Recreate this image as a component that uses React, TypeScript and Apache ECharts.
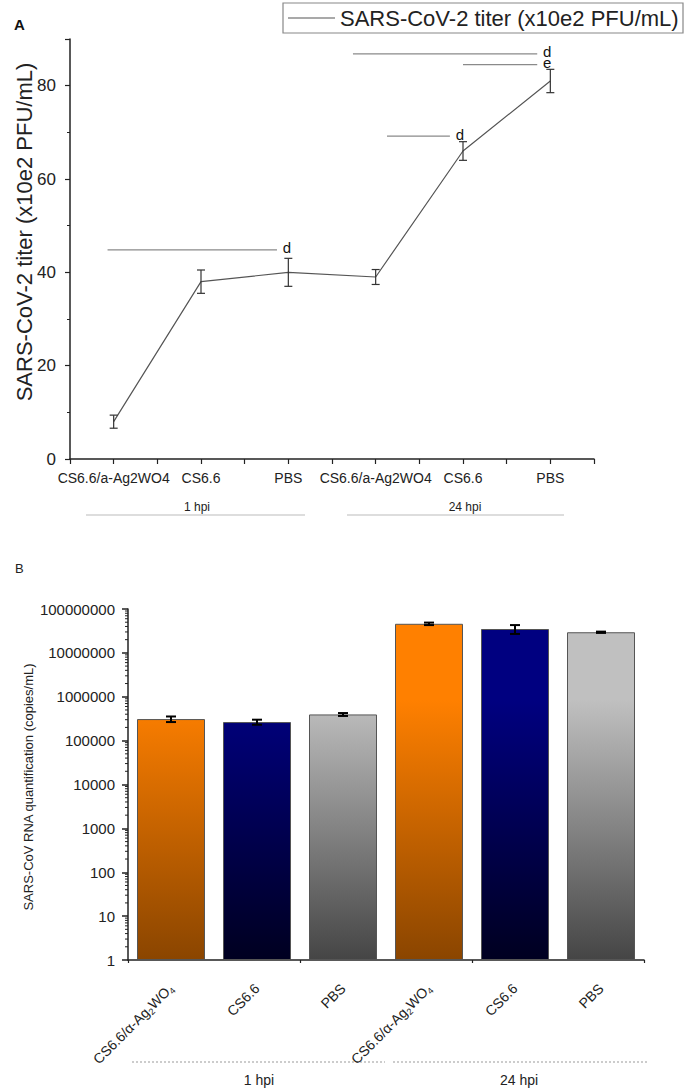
import React, { useEffect, useRef } from 'react';
import * as echarts from 'echarts';

// ---------- Panel A data ----------
const categoriesA = ['CS6.6/a-Ag2WO4', 'CS6.6', 'PBS', 'CS6.6/a-Ag2WO4', 'CS6.6', 'PBS'];
const titerMean = [8, 38, 40, 39, 66, 81];
const titerErr = [1.4, 2.5, 3, 1.6, 2, 2.5];
// significance bars: [xStart, xEnd, y]
const sigBars = [
  [0.93, 2.87, 44.8],
  [4.13, 4.85, 69.2],
  [3.74, 5.85, 86.8],
  [5.0, 5.85, 84.5],
];
const sigLetters = ['d', 'd', 'd', 'e'];
const seriesNameA = 'SARS-CoV-2 titer (x10e2 PFU/mL)';
const axisTitleA = 'SARS-CoV-2 titer (x10e2 PFU/mL)';
const groupsA = ['1 hpi', '24 hpi'];

// ---------- Panel B data ----------
const categoriesB = ['CS6.6/α-Ag2WO4', 'CS6.6', 'PBS', 'CS6.6/α-Ag2WO4 ', 'CS6.6 ', 'PBS '];
const rnaMean = [3.1e5, 2.65e5, 3.95e5, 4.6e7, 3.5e7, 2.95e7];
const rnaErr = [0.45e5, 0.35e5, 0.3e5, 0.3e7, 0.8e7, 0.1e7];
const barTopColors = ['#FF8000', '#000080', '#C0C0C0'];
const barBottomColors = ['#8A4500', '#000020', '#454545'];
const axisTitleB = 'SARS-CoV RNA quantification (copies/mL)';
const groupsB = ['1 hpi', '24 hpi'];

const FONT = '"Liberation Sans", Arial, sans-serif';

export default function App() {
  const ref = useRef<HTMLDivElement>(null);

  useEffect(() => {
    const chart = echarts.init(ref.current!, null, { renderer: 'svg' });

    const lineData = titerMean.map((v, i) => [i + 1, v]);
    const errDataA = titerMean.map((v, i) => [i + 1, v, titerErr[i]]);

    const barData = rnaMean.map((v, i) => ({
      value: v,
      itemStyle: {
        color: new echarts.graphic.LinearGradient(0, 700, 0, 960, [
          { offset: 0, color: barTopColors[i % 3] },
          { offset: 1, color: barBottomColors[i % 3] },
        ], true),
      },
    }));
    const errDataB = rnaMean.map((v, i) => [i, v, rnaErr[i]]);

    // log minor tick positions (axis decoration)
    const minorTicks: number[][] = [];
    for (let d = 1; d < 1e8; d *= 10) {
      for (let m = 2; m <= 9; m++) minorTicks.push([0, m * d]);
    }

    const axisLineStyle = { color: '#222', width: 1.5 };

    const option: any = {
      animation: false,
      backgroundColor: '#fff',
      textStyle: { fontFamily: FONT },
      grid: [
        { left: 70, top: 39, width: 524, height: 420 },
        { left: 128, top: 609, width: 516, height: 351 },
      ],
      xAxis: [
        {
          gridIndex: 0,
          type: 'value',
          min: 0.5,
          max: 6.5,
          interval: 0.5,
          splitLine: { show: false },
          axisLine: { lineStyle: axisLineStyle },
          axisTick: { length: 5, lineStyle: { color: '#222', width: 1.2 } },
          axisLabel: {
            fontSize: 14,
            color: '#222',
            margin: 12,
            fontFamily: FONT,
            formatter: (v: number) => (Number.isInteger(v) && v >= 1 && v <= 6 ? categoriesA[v - 1] : ''),
          },
        },
        {
          gridIndex: 1,
          type: 'category',
          position: 'bottom',
          data: categoriesB,
          axisLine: { lineStyle: axisLineStyle },
          axisTick: { alignWithLabel: true, length: 6, lineStyle: { color: '#222', width: 1.5 } },
          axisLabel: {
            interval: 0,
            rotate: 45,
            margin: 26,
            formatter: (v: string) =>
              v.trim() === 'CS6.6/α-Ag2WO4'
                ? '{n|CS6.6/α-Ag}{s|2}{n|WO}{s|4}'
                : '{n|' + v.trim() + '}',
            rich: {
              n: { fontSize: 14, color: '#222', fontFamily: FONT, lineHeight: 18, verticalAlign: 'middle' },
              s: { fontSize: 9, color: '#222', fontFamily: FONT, lineHeight: 10, verticalAlign: 'bottom' },
            },
          },
        },
        {
          gridIndex: 1,
          type: 'category',
          position: 'bottom',
          data: categoriesB,
          axisLine: { show: false },
          axisTick: { show: true, length: 3, lineStyle: { color: '#222', width: 1.2 } },
          axisLabel: { show: false },
        },
      ],
      yAxis: [
        {
          gridIndex: 0,
          type: 'value',
          min: 0,
          max: 90,
          interval: 20,
          splitLine: { show: false },
          axisLine: { show: true, lineStyle: axisLineStyle },
          axisTick: { show: true, length: 5, lineStyle: { color: '#222', width: 1.2 } },
          minorTick: { show: true, splitNumber: 2, length: 3, lineStyle: { color: '#222', width: 1 } },
          axisLabel: { fontSize: 17, color: '#222', margin: 14, showMaxLabel: false, fontFamily: FONT },
        },
        {
          gridIndex: 1,
          type: 'log',
          logBase: 10,
          min: 1,
          max: 1e8,
          splitNumber: 8,
          splitLine: { show: false },
          axisLine: { show: true, lineStyle: axisLineStyle },
          axisTick: { show: true, length: 6, lineStyle: { color: '#222', width: 1.5 } },
          axisLabel: {
            fontSize: 15,
            color: '#222',
            margin: 13,
            fontFamily: FONT,
            formatter: (v: number) => String(Math.round(v)),
          },
        },
      ],
      series: [
        {
          name: seriesNameA,
          type: 'line',
          xAxisIndex: 0,
          yAxisIndex: 0,
          data: lineData,
          symbol: 'none',
          lineStyle: { color: '#555', width: 1.2 },
          z: 3,
        },
        {
          name: 'errA',
          type: 'custom',
          xAxisIndex: 0,
          yAxisIndex: 0,
          data: errDataA,
          encode: { x: 0, y: 1 },
          z: 4,
          renderItem: (params: any, api: any) => {
            const x = api.value(0);
            const m = api.value(1);
            const e = api.value(2);
            const t = api.coord([x, m + e]);
            const b = api.coord([x, m - e]);
            const w = 4;
            const style = { stroke: '#333', lineWidth: 1.2 };
            return {
              type: 'group',
              children: [
                { type: 'line', shape: { x1: t[0], y1: t[1], x2: b[0], y2: b[1] }, style },
                { type: 'line', shape: { x1: t[0] - w, y1: t[1], x2: t[0] + w, y2: t[1] }, style },
                { type: 'line', shape: { x1: b[0] - w, y1: b[1], x2: b[0] + w, y2: b[1] }, style },
              ],
            };
          },
        },
        {
          name: 'sig',
          type: 'custom',
          xAxisIndex: 0,
          yAxisIndex: 0,
          data: sigBars,
          encode: { x: [0, 1], y: 2 },
          z: 4,
          renderItem: (params: any, api: any) => {
            const p1 = api.coord([api.value(0), api.value(2)]);
            const p2 = api.coord([api.value(1), api.value(2)]);
            return {
              type: 'group',
              children: [
                {
                  type: 'line',
                  shape: { x1: p1[0], y1: p1[1], x2: p2[0], y2: p2[1] },
                  style: { stroke: '#8a8a8a', lineWidth: 1.3 },
                },
                {
                  type: 'text',
                  x: p2[0] + 10,
                  y: p2[1] + 3,
                  style: {
                    text: sigLetters[params.dataIndex],
                    fontSize: 15,
                    fontFamily: FONT,
                    fill: '#111',
                    align: 'center',
                    verticalAlign: 'bottom',
                    lineHeight: 10,
                  },
                },
              ],
            };
          },
        },
        {
          name: 'RNA',
          type: 'bar',
          xAxisIndex: 1,
          yAxisIndex: 1,
          data: barData,
          barWidth: 68,
          itemStyle: { borderColor: '#555', borderWidth: 1 },
          z: 2,
        },
        {
          name: 'errB',
          type: 'custom',
          xAxisIndex: 1,
          yAxisIndex: 1,
          data: errDataB,
          encode: { x: 0, y: 1 },
          z: 5,
          renderItem: (params: any, api: any) => {
            const x = api.value(0);
            const m = api.value(1);
            const e = api.value(2);
            const t = api.coord([x, m + e]);
            const b = api.coord([x, m - e]);
            const w = 5;
            const style = { stroke: '#000', lineWidth: 2 };
            return {
              type: 'group',
              children: [
                { type: 'line', shape: { x1: t[0], y1: t[1], x2: b[0], y2: b[1] }, style },
                { type: 'line', shape: { x1: t[0] - w, y1: t[1], x2: t[0] + w, y2: t[1] }, style },
                { type: 'line', shape: { x1: b[0] - w, y1: b[1], x2: b[0] + w, y2: b[1] }, style },
              ],
            };
          },
        },
        {
          name: 'minorTicksB',
          type: 'custom',
          xAxisIndex: 1,
          yAxisIndex: 1,
          data: minorTicks,
          encode: { x: 0, y: 1 },
          silent: true,
          z: 6,
          renderItem: (params: any, api: any) => {
            const p = api.coord([0, api.value(1)]);
            const x0 = params.coordSys.x;
            return {
              type: 'line',
              shape: { x1: x0 - 3, y1: p[1], x2: x0, y2: p[1] },
              style: { stroke: '#222', lineWidth: 1 },
            };
          },
        },
      ],
      graphic: [
        // panel letters
        { type: 'text', left: 14, top: 17, style: { text: 'A', fontSize: 15, fontWeight: 'bold', fontFamily: FONT, fill: '#111' } },
        { type: 'text', left: 15, top: 562, style: { text: 'B', fontSize: 13, fontFamily: FONT, fill: '#222' } },
        // legend A
        { type: 'rect', shape: { x: 283, y: 3, width: 400, height: 30 }, style: { fill: '#fff', stroke: '#888', lineWidth: 1.2 } },
        { type: 'line', shape: { x1: 288, y1: 18, x2: 335, y2: 18 }, style: { stroke: '#555', lineWidth: 1.2 } },
        { type: 'text', x: 340, y: 18, style: { text: seriesNameA, fontSize: 22, fontFamily: FONT, fill: '#222', verticalAlign: 'middle' } },
        // axis title A
        { type: 'text', x: 24, y: 232, rotation: Math.PI / 2, style: { text: axisTitleA, fontSize: 22, fontFamily: FONT, fill: '#222', align: 'center', verticalAlign: 'middle' } },
        // groups A
        { type: 'text', x: 197, y: 507, style: { text: groupsA[0], fontSize: 12, fontFamily: FONT, fill: '#222', align: 'center', verticalAlign: 'middle' } },
        { type: 'text', x: 465, y: 507, style: { text: groupsA[1], fontSize: 12, fontFamily: FONT, fill: '#222', align: 'center', verticalAlign: 'middle' } },
        { type: 'line', shape: { x1: 86, y1: 515, x2: 305, y2: 515 }, style: { stroke: '#bbb', lineWidth: 1 } },
        { type: 'line', shape: { x1: 347, y1: 515, x2: 564, y2: 515 }, style: { stroke: '#bbb', lineWidth: 1 } },
        // axis title B
        { type: 'text', x: 28, y: 787, rotation: Math.PI / 2, style: { text: axisTitleB, fontSize: 13, fontFamily: FONT, fill: '#222', align: 'center', verticalAlign: 'middle' } },
        // groups B
        { type: 'line', shape: { x1: 132, y1: 1062, x2: 385, y2: 1062 }, style: { stroke: '#999', lineWidth: 1, lineDash: [2, 2] } },
        { type: 'line', shape: { x1: 393, y1: 1062, x2: 647, y2: 1062 }, style: { stroke: '#999', lineWidth: 1, lineDash: [2, 2] } },
        { type: 'text', x: 259, y: 1080, style: { text: groupsB[0], fontSize: 14, fontFamily: FONT, fill: '#222', align: 'center', verticalAlign: 'middle' } },
        { type: 'text', x: 519, y: 1080, style: { text: groupsB[1], fontSize: 14, fontFamily: FONT, fill: '#222', align: 'center', verticalAlign: 'middle' } },
      ],
    };

    chart.setOption(option);
    return () => chart.dispose();
  }, []);

  return <div ref={ref} style={{ position: 'absolute', left: 0, top: 0, width: 685, height: 1090 }} />;
}
